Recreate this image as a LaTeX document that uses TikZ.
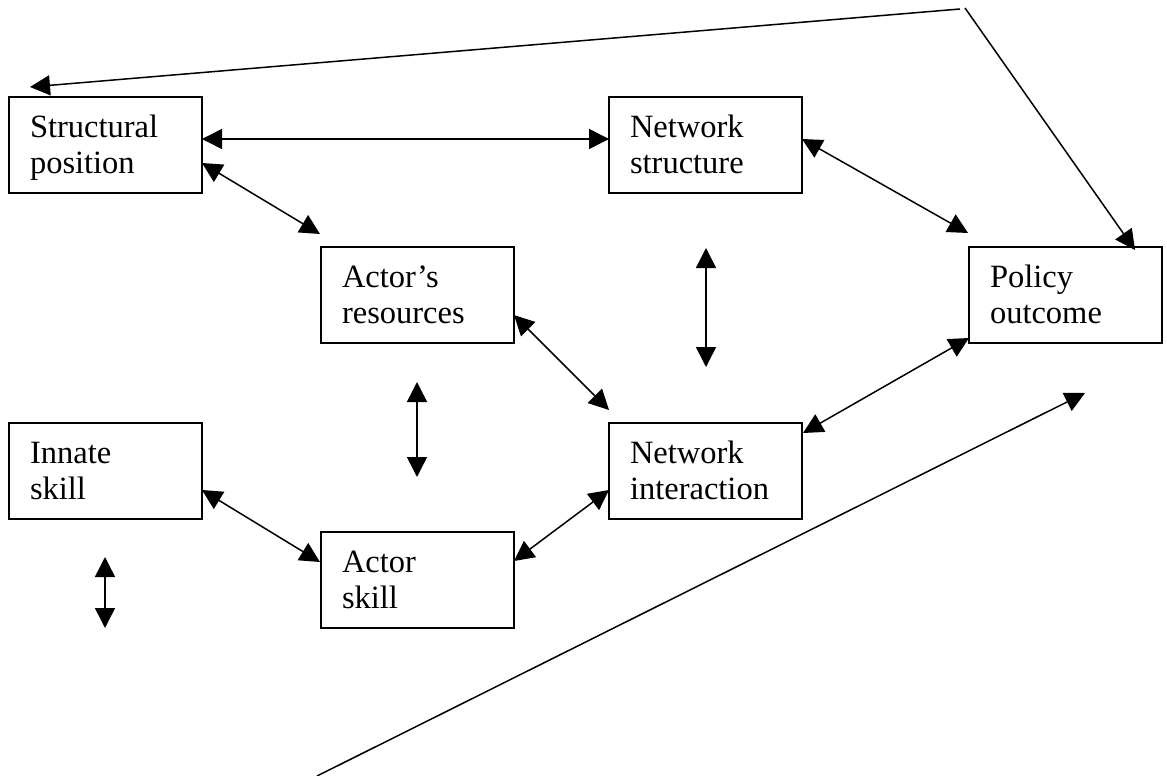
\documentclass[tikz,border=0pt]{standalone}
\usepackage{fontspec}
\setmainfont{Liberation Serif}
\usetikzlibrary{arrows.meta}
\newcommand\boxtop{\rule{0pt}{30pt}}
\newcommand\boxbot{\rule[-9.5pt]{0pt}{9.5pt}}
\begin{document}
\begin{tikzpicture}[x=1pt,y=-1pt,
  box/.style={draw, line width=1.7pt, anchor=north west, minimum width=193pt, minimum height=96pt,
    text width=151pt, inner xsep=21pt, inner ysep=0pt, outer sep=0pt, align=left,
    font=\fontsize{32.5}{36.5}\selectfont},
  link/.style={line width=1.5pt, {Triangle[length=20pt,width=20pt]}-{Triangle[length=20pt,width=20pt]}},
  oneway/.style={line width=1.5pt, -{Triangle[length=20pt,width=20pt]}},
  plain/.style={line width=1.5pt}]
\useasboundingbox (0,0) rectangle (1167,776);
% boxes
\node[box] (sp) at (9,97)   {\boxtop Structural\\position\boxbot};
\node[box] (ns) at (609,97) {\boxtop Network\\structure\boxbot};
\node[box] (ar) at (321,247){\boxtop Actor’s\\resources\boxbot};
\node[box] (po) at (969,247){\boxtop Policy\\outcome\boxbot};
\node[box] (is) at (9,423)  {\boxtop Innate\\skill\boxbot};
\node[box] (ni) at (609,423){\boxtop Network\\interaction\boxbot};
\node[box] (as) at (321,532){\boxtop Actor\\skill\boxbot};
% free coordinates
\coordinate (topl) at (960,9);
\coordinate (topr) at (965,8);
\coordinate (v1a) at (706,248);
\coordinate (v1b) at (706,367);
\coordinate (v2a) at (417,382);
\coordinate (v2b) at (417,477);
\coordinate (v3a) at (105,557);
\coordinate (v3b) at (105,628);
\coordinate (la) at (317,776);
\coordinate (lb) at (1085,393);
% connectors
\draw[oneway] (topl) -- ([shift={(21pt,10pt)}]sp.north west);
\draw[oneway] (topr) -- ([shift={(166pt,-3pt)}]po.north west);
\draw[link] ([yshift=6pt]sp.east) -- ([yshift=6pt]ns.west);
\draw[link] ([yshift=-18pt]sp.east) -- ([shift={(-1pt,13pt)}]ar.north west);
\draw[link] ([yshift=6pt]ns.east) -- ([shift={(-1pt,14pt)}]po.north west);
\draw[link] (v1a) -- (v1b);
\draw[link] ([yshift=-20pt]ar.east) -- ([yshift=13pt]ni.north west);
\draw[link] (v2a) -- (v2b);
\draw[link] ([yshift=5pt]po.south west) -- ([shift={(1pt,-10pt)}]ni.north east);
\draw[oneway] (la) -- (lb);
\draw[link] ([yshift=-19pt]is.east) -- ([shift={(-1pt,18pt)}]as.west);
\draw[link] ([yshift=19pt]as.east) -- ([yshift=-19pt]ni.west);
\draw[link] (v3a) -- (v3b);
\end{tikzpicture}
\end{document}
